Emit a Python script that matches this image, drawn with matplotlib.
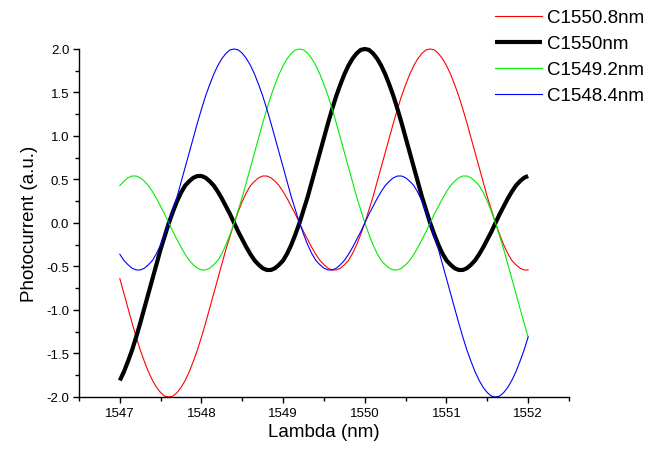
import numpy as np
import matplotlib
matplotlib.use("Agg")
import matplotlib.pyplot as plt
from matplotlib.ticker import MultipleLocator

plt.rcParams['font.family'] = ['Liberation Sans', 'DejaVu Sans']

wavelength_start = 1547.0
wavelength_step = 0.05

c1550_8 = [-0.64, -0.81, -0.98, -1.15, -1.31, -1.46, -1.59, -1.71, -1.81, -1.89,
           -1.95, -1.99, -2.00, -1.99, -1.95, -1.89, -1.81, -1.71, -1.59, -1.46,
           -1.31, -1.15, -0.98, -0.81, -0.64, -0.47, -0.30, -0.15, 0.00, 0.13,
           0.25, 0.35, 0.43, 0.48, 0.52, 0.54, 0.54, 0.52, 0.48, 0.43,
           0.36, 0.28, 0.19, 0.10, 0.00, -0.10, -0.19, -0.28, -0.36, -0.43,
           -0.48, -0.52, -0.54, -0.54, -0.52, -0.48, -0.43, -0.35, -0.25, -0.13,
           0.00, 0.15, 0.30, 0.47, 0.64, 0.81, 0.98, 1.15, 1.31, 1.46,
           1.59, 1.71, 1.81, 1.89, 1.95, 1.99, 2.00, 1.99, 1.95, 1.89,
           1.81, 1.71, 1.59, 1.46, 1.31, 1.15, 0.98, 0.81, 0.64, 0.47,
           0.30, 0.15, 0.00, -0.13, -0.25, -0.35, -0.43, -0.48, -0.52, -0.54,
           -0.54]

c1550 = [-1.81, -1.71, -1.59, -1.46, -1.31, -1.15, -0.98, -0.81, -0.64, -0.47,
         -0.30, -0.15, 0.00, 0.13, 0.25, 0.35, 0.43, 0.48, 0.52, 0.54,
         0.54, 0.52, 0.48, 0.43, 0.36, 0.28, 0.19, 0.10, 0.00, -0.10,
         -0.19, -0.28, -0.36, -0.43, -0.48, -0.52, -0.54, -0.54, -0.52, -0.48,
         -0.43, -0.35, -0.25, -0.13, 0.00, 0.15, 0.30, 0.47, 0.64, 0.81,
         0.98, 1.15, 1.31, 1.46, 1.59, 1.71, 1.81, 1.89, 1.95, 1.99,
         2.00, 1.99, 1.95, 1.89, 1.81, 1.71, 1.59, 1.46, 1.31, 1.15,
         0.98, 0.81, 0.64, 0.47, 0.30, 0.15, 0.00, -0.13, -0.25, -0.35,
         -0.43, -0.48, -0.52, -0.54, -0.54, -0.52, -0.48, -0.43, -0.36, -0.28,
         -0.19, -0.10, 0.00, 0.10, 0.19, 0.28, 0.36, 0.43, 0.48, 0.52,
         0.54]

c1549_2 = [0.43, 0.48, 0.52, 0.54, 0.54, 0.52, 0.48, 0.43, 0.36, 0.28,
           0.19, 0.10, 0.00, -0.10, -0.19, -0.28, -0.36, -0.43, -0.48, -0.52,
           -0.54, -0.54, -0.52, -0.48, -0.43, -0.35, -0.25, -0.13, 0.00, 0.15,
           0.30, 0.47, 0.64, 0.81, 0.98, 1.15, 1.31, 1.46, 1.59, 1.71,
           1.81, 1.89, 1.95, 1.99, 2.00, 1.99, 1.95, 1.89, 1.81, 1.71,
           1.59, 1.46, 1.31, 1.15, 0.98, 0.81, 0.64, 0.47, 0.30, 0.15,
           0.00, -0.13, -0.25, -0.35, -0.43, -0.48, -0.52, -0.54, -0.54, -0.52,
           -0.48, -0.43, -0.36, -0.28, -0.19, -0.10, 0.00, 0.10, 0.19, 0.28,
           0.36, 0.43, 0.48, 0.52, 0.54, 0.54, 0.52, 0.48, 0.43, 0.35,
           0.25, 0.13, 0.00, -0.15, -0.30, -0.47, -0.64, -0.81, -0.98, -1.15,
           -1.31]

c1548_4 = [-0.36, -0.43, -0.48, -0.52, -0.54, -0.54, -0.52, -0.48, -0.43, -0.35,
           -0.25, -0.13, 0.00, 0.15, 0.30, 0.47, 0.64, 0.81, 0.98, 1.15,
           1.31, 1.46, 1.59, 1.71, 1.81, 1.89, 1.95, 1.99, 2.00, 1.99,
           1.95, 1.89, 1.81, 1.71, 1.59, 1.46, 1.31, 1.15, 0.98, 0.81,
           0.64, 0.47, 0.30, 0.15, 0.00, -0.13, -0.25, -0.35, -0.43, -0.48,
           -0.52, -0.54, -0.54, -0.52, -0.48, -0.43, -0.36, -0.28, -0.19, -0.10,
           0.00, 0.10, 0.19, 0.28, 0.36, 0.43, 0.48, 0.52, 0.54, 0.54,
           0.52, 0.48, 0.43, 0.35, 0.25, 0.13, 0.00, -0.15, -0.30, -0.47,
           -0.64, -0.81, -0.98, -1.15, -1.31, -1.46, -1.59, -1.71, -1.81, -1.89,
           -1.95, -1.99, -2.00, -1.99, -1.95, -1.89, -1.81, -1.71, -1.59, -1.46,
           -1.31]

labels = ["C1550.8nm", "C1550nm", "C1549.2nm", "C1548.4nm"]

lam = wavelength_start + wavelength_step * np.arange(len(c1550))

fig = plt.figure(figsize=(6.6, 4.52), dpi=100)
ax = fig.add_axes([0.1197, 0.1195, 0.7424, 0.7699])

lines = []
lines += ax.plot(lam, c1550_8, color="#ff0000", lw=0.8, clip_on=False)
lines += ax.plot(lam, c1550, color="black", lw=3.0, clip_on=False,
                 solid_capstyle="butt")
lines += ax.plot(lam, c1549_2, color="#00ee00", lw=0.8, clip_on=False)
lines += ax.plot(lam, c1548_4, color="#0000ff", lw=0.8, clip_on=False)

ax.set_xlim(1546.5, 1552.5)
ax.set_ylim(-2.0, 2.0)
ax.xaxis.set_major_locator(MultipleLocator(1))
ax.xaxis.set_minor_locator(MultipleLocator(0.5))
ax.yaxis.set_major_locator(MultipleLocator(0.5))
ax.yaxis.set_minor_locator(MultipleLocator(0.25))
ax.yaxis.set_major_formatter(plt.FormatStrFormatter("%.1f"))
ax.xaxis.set_major_formatter(plt.FormatStrFormatter("%d"))

for side in ["top", "right"]:
    ax.spines[side].set_visible(False)
for side in ["left", "bottom"]:
    ax.spines[side].set_linewidth(1.0)

ax.tick_params(which="major", direction="out", length=4, width=1.0,
               labelsize=9.5, pad=3)
ax.tick_params(which="minor", direction="out", length=3, width=1.0)

ax.set_xlabel("Lambda (nm)", fontsize=13.5, labelpad=3)
ax.set_ylabel("Photocurrent (a.u.)", fontsize=13.5, labelpad=6)

fig.legend(lines, labels, loc="upper left", bbox_to_anchor=(0.75, 0.978),
           frameon=False, fontsize=13.5, handlelength=2.5, handletextpad=0.3,
           labelspacing=0.48, borderaxespad=0, borderpad=0)

fig.savefig("out.png", dpi=100)
plt.close(fig)
